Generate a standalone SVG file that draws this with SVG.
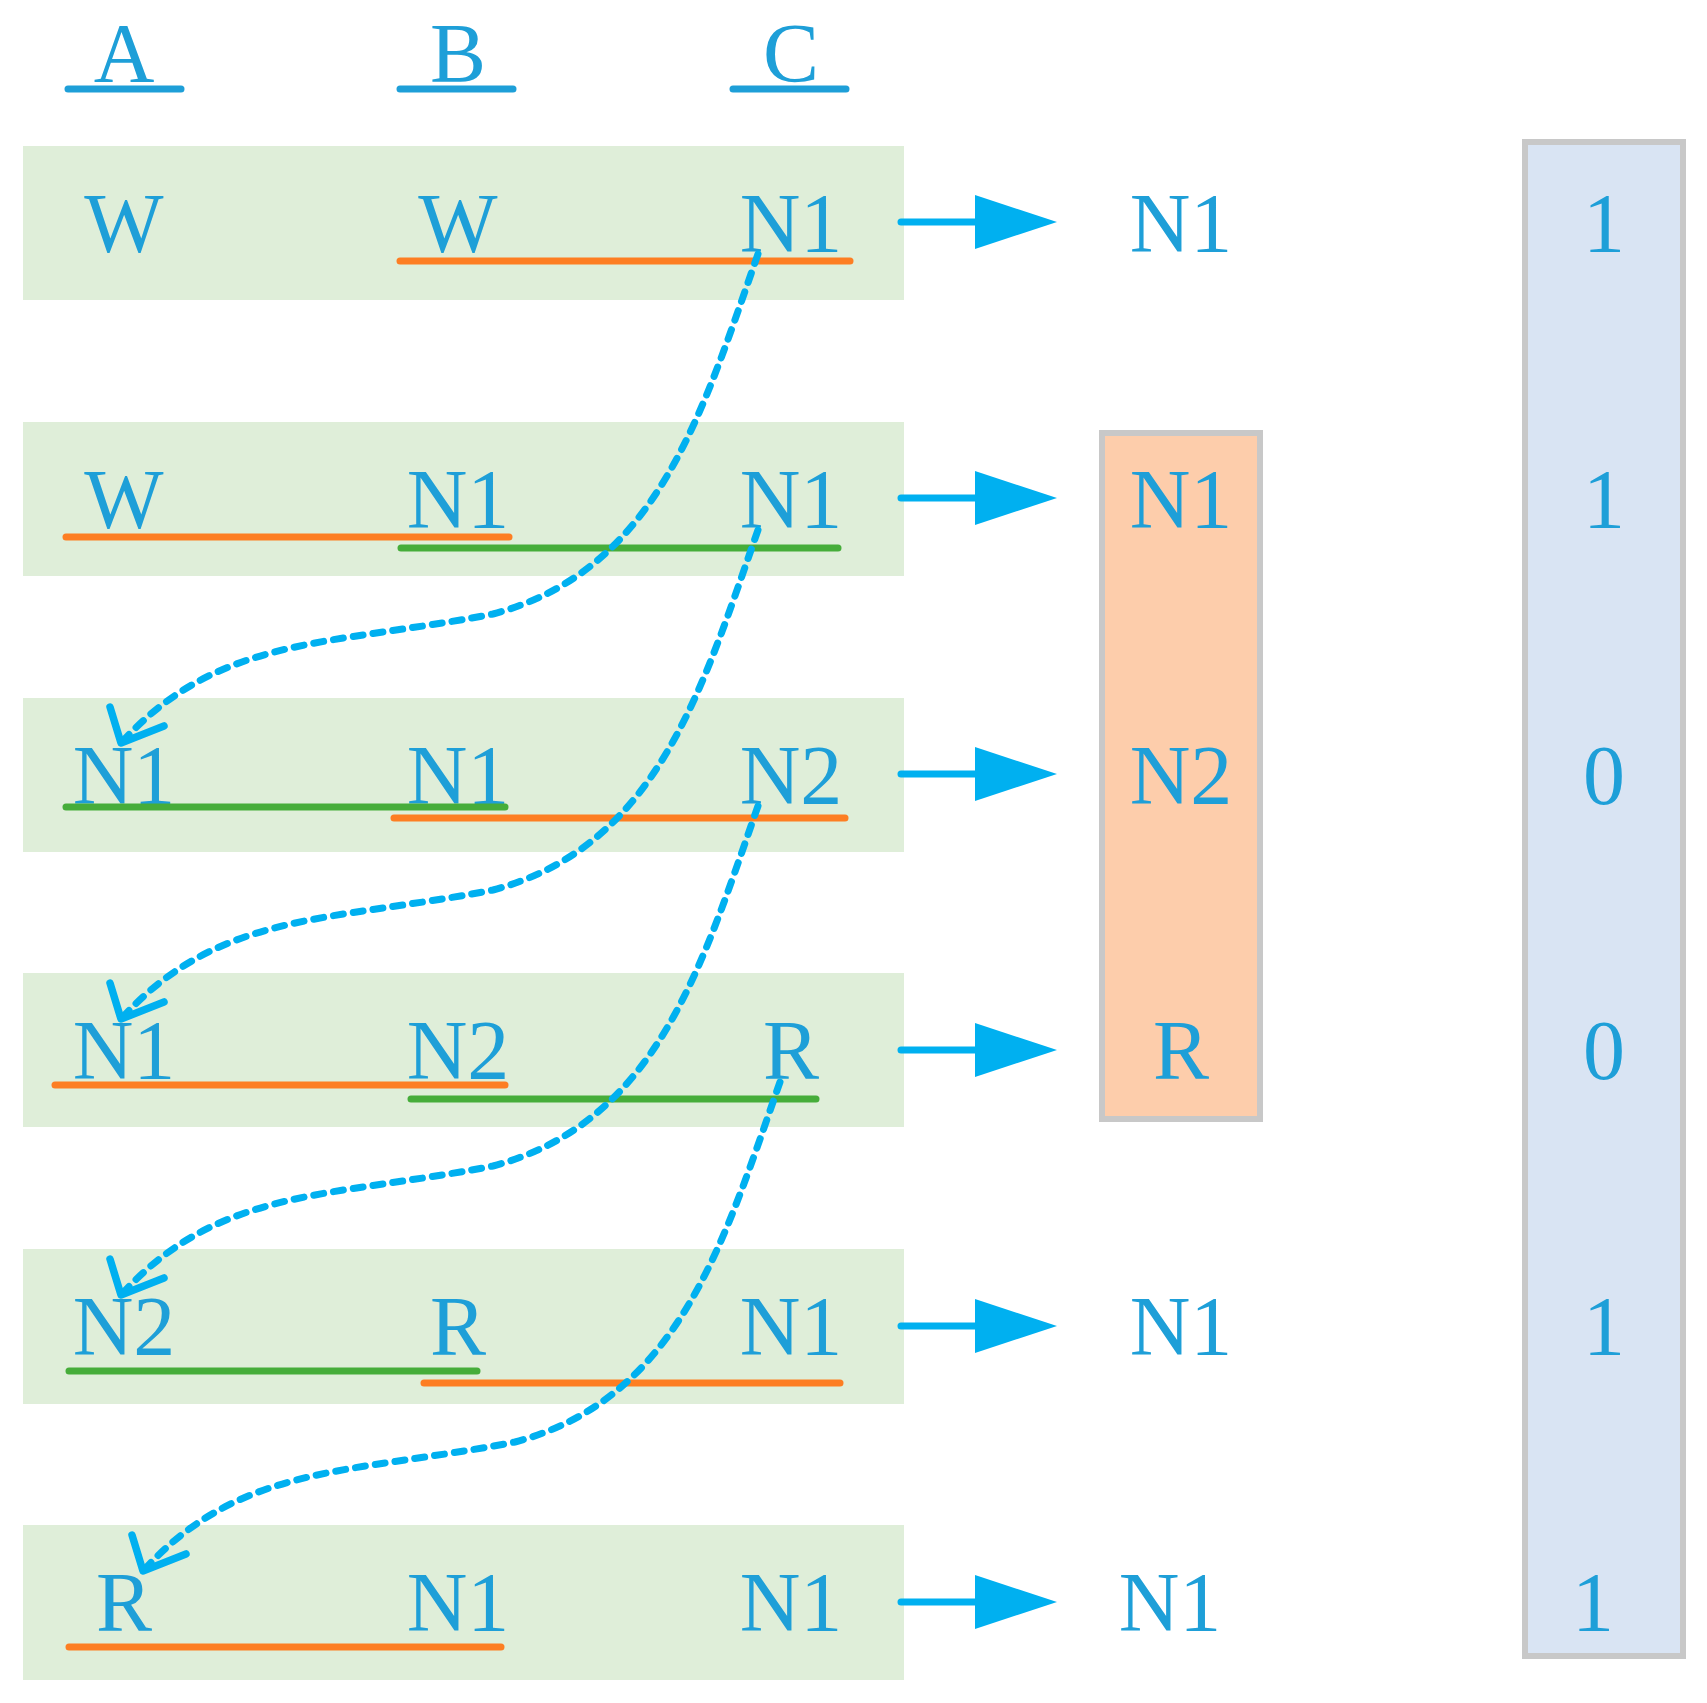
<svg xmlns="http://www.w3.org/2000/svg" width="1707" height="1703" viewBox="0 0 1707 1703">
<style>
text{font-family:"Liberation Serif",serif;font-size:84px;fill:#1e9fd8;text-anchor:middle}
.row{fill:#dfeed9}
.hu{stroke:#1e9fd8;stroke-width:7;stroke-linecap:round}
.o{stroke:#fd7e23;stroke-width:7;stroke-linecap:round}
.g{stroke:#46ad3a;stroke-width:7;stroke-linecap:round}
.arr{stroke:#00b0f0;stroke-width:7;stroke-linecap:round}
.tri{fill:#00b0f0}
.dot{fill:none;stroke:#00b0f0;stroke-width:7;stroke-dasharray:10 10;stroke-linecap:round}
.head{fill:none;stroke:#00b0f0;stroke-width:7.5;stroke-linecap:round;stroke-linejoin:round}
</style>
<rect width="1707" height="1703" fill="#fff"/>
<g id="header">
<text x="124" y="82">A</text><line class="hu" x1="68" y1="89" x2="181" y2="89"/>
<text x="458" y="82">B</text><line class="hu" x1="400" y1="89" x2="513" y2="89"/>
<text x="791" y="82">C</text><line class="hu" x1="733" y1="89" x2="846" y2="89"/>
</g>
<g id="outbox-orange"><rect x="1102" y="433" width="158" height="686" fill="#fdcdab" stroke="#c8c8c8" stroke-width="6"/></g>
<g id="outbox-blue"><rect x="1525" y="142" width="158" height="1514" fill="#d9e4f3" stroke="#c8c8c8" stroke-width="6"/></g>
<g id="row1"><rect class="row" x="23" y="146" width="881" height="154"/>
<text x="124" y="252">W</text><text x="458" y="252">W</text><text x="791" y="252">N1</text>
<line class="o" x1="400" y1="261" x2="850" y2="261"/></g>
<g id="row2"><rect class="row" x="23" y="422" width="881" height="154"/>
<text x="124" y="528">W</text><text x="458" y="528">N1</text><text x="791" y="528">N1</text>
<line class="o" x1="66" y1="537" x2="509" y2="537"/><line class="g" x1="401" y1="548" x2="838" y2="548"/></g>
<g id="row3"><rect class="row" x="23" y="698" width="881" height="154"/>
<text x="124" y="804">N1</text><text x="458" y="804">N1</text><text x="791" y="804">N2</text>
<line class="g" x1="66" y1="807" x2="505" y2="807"/><line class="o" x1="394" y1="818" x2="845" y2="818"/></g>
<g id="row4"><rect class="row" x="23" y="973" width="881" height="154"/>
<text x="124" y="1079">N1</text><text x="458" y="1079">N2</text><text x="791" y="1079">R</text>
<line class="o" x1="55" y1="1085" x2="505" y2="1085"/><line class="g" x1="411" y1="1099" x2="816" y2="1099"/></g>
<g id="row5"><rect class="row" x="23" y="1249" width="881" height="155"/>
<text x="124" y="1355">N2</text><text x="458" y="1355">R</text><text x="791" y="1355">N1</text>
<line class="g" x1="69" y1="1371" x2="477" y2="1371"/><line class="o" x1="424" y1="1383" x2="840" y2="1383"/></g>
<g id="row6"><rect class="row" x="23" y="1525" width="881" height="155"/>
<text x="124" y="1631">R</text><text x="458" y="1631">N1</text><text x="791" y="1631">N1</text>
<line class="o" x1="69" y1="1647" x2="501" y2="1647"/></g>
<g id="outputs">
<text x="1181" y="252">N1</text><text x="1181" y="528">N1</text><text x="1181" y="804">N2</text>
<text x="1181" y="1079">R</text><text x="1181" y="1355">N1</text><text x="1170" y="1631">N1</text>
<text x="1604" y="252">1</text><text x="1604" y="528">1</text><text x="1604" y="804">0</text>
<text x="1604" y="1079">0</text><text x="1604" y="1355">1</text><text x="1593" y="1631">1</text>
</g>
<g id="connectors">
<defs>
<g id="rarr"><line class="arr" x1="901" y1="0" x2="980" y2="0"/><polygon class="tri" points="975,-27 1057,0 975,27"/></g>
<g id="curve"><path class="dot" d="M758,254 C701,416 657,570 493,614 C329,646 219,635 121,743"/><polyline class="head" points="110,707 121,743 164,726"/></g>
</defs>
<use href="#rarr" y="222"/><use href="#rarr" y="498"/><use href="#rarr" y="774"/>
<use href="#rarr" y="1050"/><use href="#rarr" y="1326"/><use href="#rarr" y="1602"/>
<use href="#curve"/><use href="#curve" y="276"/><use href="#curve" y="552"/><use href="#curve" x="22" y="828"/>
</g>
</svg>
